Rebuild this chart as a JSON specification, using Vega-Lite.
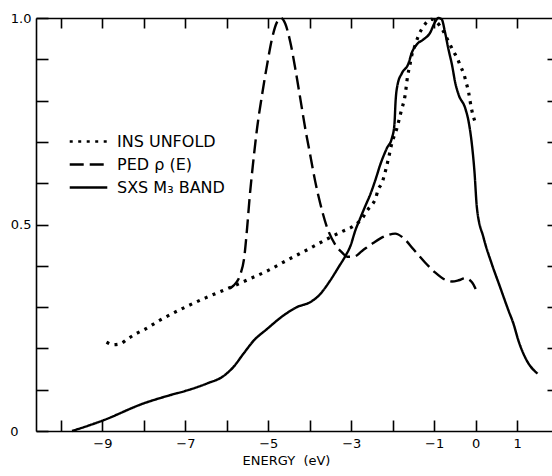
{
  "$schema": "https://vega.github.io/schema/vega-lite/v6.json",
  "width": 516,
  "height": 413,
  "autosize": "none",
  "padding": {"left": 36, "top": 18, "right": 0, "bottom": 45},
  "background": "white",
  "config": {
    "view": {"stroke": null},
    "font": "DejaVu Sans",
    "axis": {
      "grid": false,
      "domainColor": "black",
      "domainWidth": 1.6,
      "tickColor": "black",
      "tickWidth": 1.6,
      "labelColor": "black",
      "labelFont": "DejaVu Sans",
      "labelFontSize": 13,
      "titleColor": "black",
      "titleFont": "DejaVu Sans",
      "titleFontSize": 13,
      "titleFontWeight": "normal",
      "labelFlush": false,
      "labelOverlap": false
    }
  },
  "data": {
    "values": [
      {"s": "INS UNFOLD", "e": -8.9, "v": 0.215},
      {"s": "INS UNFOLD", "e": -8.74, "v": 0.209},
      {"s": "INS UNFOLD", "e": -8.57, "v": 0.211},
      {"s": "INS UNFOLD", "e": -8.39, "v": 0.223},
      {"s": "INS UNFOLD", "e": -8.2, "v": 0.235},
      {"s": "INS UNFOLD", "e": -8.0, "v": 0.245},
      {"s": "INS UNFOLD", "e": -7.6, "v": 0.269},
      {"s": "INS UNFOLD", "e": -7.0, "v": 0.3},
      {"s": "INS UNFOLD", "e": -6.5, "v": 0.323},
      {"s": "INS UNFOLD", "e": -6.0, "v": 0.344},
      {"s": "INS UNFOLD", "e": -5.5, "v": 0.366},
      {"s": "INS UNFOLD", "e": -5.0, "v": 0.389},
      {"s": "INS UNFOLD", "e": -4.5, "v": 0.416},
      {"s": "INS UNFOLD", "e": -4.0, "v": 0.442},
      {"s": "INS UNFOLD", "e": -3.6, "v": 0.464},
      {"s": "INS UNFOLD", "e": -3.2, "v": 0.484},
      {"s": "INS UNFOLD", "e": -2.98, "v": 0.494},
      {"s": "INS UNFOLD", "e": -2.8, "v": 0.508},
      {"s": "INS UNFOLD", "e": -2.7, "v": 0.52},
      {"s": "INS UNFOLD", "e": -2.6, "v": 0.536},
      {"s": "INS UNFOLD", "e": -2.5, "v": 0.548},
      {"s": "INS UNFOLD", "e": -2.42, "v": 0.561},
      {"s": "INS UNFOLD", "e": -2.35, "v": 0.585},
      {"s": "INS UNFOLD", "e": -2.26, "v": 0.6},
      {"s": "INS UNFOLD", "e": -2.2, "v": 0.62},
      {"s": "INS UNFOLD", "e": -2.1, "v": 0.661},
      {"s": "INS UNFOLD", "e": -2.02, "v": 0.697},
      {"s": "INS UNFOLD", "e": -1.9, "v": 0.733},
      {"s": "INS UNFOLD", "e": -1.8, "v": 0.773},
      {"s": "INS UNFOLD", "e": -1.7, "v": 0.814},
      {"s": "INS UNFOLD", "e": -1.64, "v": 0.86},
      {"s": "INS UNFOLD", "e": -1.59, "v": 0.884},
      {"s": "INS UNFOLD", "e": -1.54, "v": 0.91},
      {"s": "INS UNFOLD", "e": -1.46, "v": 0.934},
      {"s": "INS UNFOLD", "e": -1.38, "v": 0.957},
      {"s": "INS UNFOLD", "e": -1.27, "v": 0.978},
      {"s": "INS UNFOLD", "e": -1.06, "v": 0.997},
      {"s": "INS UNFOLD", "e": -0.87, "v": 0.982},
      {"s": "INS UNFOLD", "e": -0.78, "v": 0.968},
      {"s": "INS UNFOLD", "e": -0.7, "v": 0.952},
      {"s": "INS UNFOLD", "e": -0.61, "v": 0.934},
      {"s": "INS UNFOLD", "e": -0.53, "v": 0.918},
      {"s": "INS UNFOLD", "e": -0.44, "v": 0.902},
      {"s": "INS UNFOLD", "e": -0.37, "v": 0.884},
      {"s": "INS UNFOLD", "e": -0.29, "v": 0.866},
      {"s": "INS UNFOLD", "e": -0.23, "v": 0.844},
      {"s": "INS UNFOLD", "e": -0.17, "v": 0.82},
      {"s": "INS UNFOLD", "e": -0.13, "v": 0.796},
      {"s": "INS UNFOLD", "e": -0.09, "v": 0.775},
      {"s": "INS UNFOLD", "e": -0.02, "v": 0.75},

      {"s": "PED ρ (E)", "e": -5.93, "v": 0.345},
      {"s": "PED ρ (E)", "e": -5.84, "v": 0.352},
      {"s": "PED ρ (E)", "e": -5.67, "v": 0.38},
      {"s": "PED ρ (E)", "e": -5.58, "v": 0.42},
      {"s": "PED ρ (E)", "e": -5.51, "v": 0.492},
      {"s": "PED ρ (E)", "e": -5.45, "v": 0.565},
      {"s": "PED ρ (E)", "e": -5.37, "v": 0.645},
      {"s": "PED ρ (E)", "e": -5.27, "v": 0.733},
      {"s": "PED ρ (E)", "e": -5.15, "v": 0.814},
      {"s": "PED ρ (E)", "e": -5.03, "v": 0.886},
      {"s": "PED ρ (E)", "e": -4.91, "v": 0.95},
      {"s": "PED ρ (E)", "e": -4.79, "v": 0.99},
      {"s": "PED ρ (E)", "e": -4.69, "v": 1.0},
      {"s": "PED ρ (E)", "e": -4.59, "v": 0.986},
      {"s": "PED ρ (E)", "e": -4.47, "v": 0.942},
      {"s": "PED ρ (E)", "e": -4.35, "v": 0.878},
      {"s": "PED ρ (E)", "e": -4.23, "v": 0.806},
      {"s": "PED ρ (E)", "e": -4.11, "v": 0.733},
      {"s": "PED ρ (E)", "e": -3.99, "v": 0.669},
      {"s": "PED ρ (E)", "e": -3.87, "v": 0.605},
      {"s": "PED ρ (E)", "e": -3.75, "v": 0.552},
      {"s": "PED ρ (E)", "e": -3.59, "v": 0.495},
      {"s": "PED ρ (E)", "e": -3.39, "v": 0.452},
      {"s": "PED ρ (E)", "e": -3.22, "v": 0.432},
      {"s": "PED ρ (E)", "e": -3.1, "v": 0.422},
      {"s": "PED ρ (E)", "e": -2.94, "v": 0.422},
      {"s": "PED ρ (E)", "e": -2.74, "v": 0.436},
      {"s": "PED ρ (E)", "e": -2.46, "v": 0.456},
      {"s": "PED ρ (E)", "e": -2.18, "v": 0.472},
      {"s": "PED ρ (E)", "e": -1.94, "v": 0.478},
      {"s": "PED ρ (E)", "e": -1.74, "v": 0.467},
      {"s": "PED ρ (E)", "e": -1.5, "v": 0.44},
      {"s": "PED ρ (E)", "e": -1.22, "v": 0.408},
      {"s": "PED ρ (E)", "e": -0.98, "v": 0.384},
      {"s": "PED ρ (E)", "e": -0.73, "v": 0.366},
      {"s": "PED ρ (E)", "e": -0.57, "v": 0.362},
      {"s": "PED ρ (E)", "e": -0.41, "v": 0.365},
      {"s": "PED ρ (E)", "e": -0.25, "v": 0.37},
      {"s": "PED ρ (E)", "e": -0.09, "v": 0.36},
      {"s": "PED ρ (E)", "e": 0.0, "v": 0.344},

      {"s": "SXS M₃ BAND", "e": -9.73, "v": 0.0},
      {"s": "SXS M₃ BAND", "e": -9.0, "v": 0.025},
      {"s": "SXS M₃ BAND", "e": -8.0, "v": 0.067},
      {"s": "SXS M₃ BAND", "e": -7.36, "v": 0.087},
      {"s": "SXS M₃ BAND", "e": -7.0, "v": 0.097},
      {"s": "SXS M₃ BAND", "e": -6.48, "v": 0.115},
      {"s": "SXS M₃ BAND", "e": -6.08, "v": 0.133},
      {"s": "SXS M₃ BAND", "e": -5.84, "v": 0.155},
      {"s": "SXS M₃ BAND", "e": -5.6, "v": 0.187},
      {"s": "SXS M₃ BAND", "e": -5.35, "v": 0.219},
      {"s": "SXS M₃ BAND", "e": -5.03, "v": 0.247},
      {"s": "SXS M₃ BAND", "e": -4.63, "v": 0.28},
      {"s": "SXS M₃ BAND", "e": -4.31, "v": 0.3},
      {"s": "SXS M₃ BAND", "e": -3.99, "v": 0.312},
      {"s": "SXS M₃ BAND", "e": -3.8, "v": 0.326},
      {"s": "SXS M₃ BAND", "e": -3.51, "v": 0.364},
      {"s": "SXS M₃ BAND", "e": -3.31, "v": 0.396},
      {"s": "SXS M₃ BAND", "e": -3.14, "v": 0.424},
      {"s": "SXS M₃ BAND", "e": -3.02, "v": 0.448},
      {"s": "SXS M₃ BAND", "e": -2.9, "v": 0.486},
      {"s": "SXS M₃ BAND", "e": -2.78, "v": 0.516},
      {"s": "SXS M₃ BAND", "e": -2.66, "v": 0.545},
      {"s": "SXS M₃ BAND", "e": -2.54, "v": 0.573},
      {"s": "SXS M₃ BAND", "e": -2.42, "v": 0.607},
      {"s": "SXS M₃ BAND", "e": -2.3, "v": 0.645},
      {"s": "SXS M₃ BAND", "e": -2.14, "v": 0.685},
      {"s": "SXS M₃ BAND", "e": -2.02, "v": 0.709},
      {"s": "SXS M₃ BAND", "e": -1.96, "v": 0.741},
      {"s": "SXS M₃ BAND", "e": -1.93, "v": 0.8},
      {"s": "SXS M₃ BAND", "e": -1.88, "v": 0.84},
      {"s": "SXS M₃ BAND", "e": -1.78, "v": 0.866},
      {"s": "SXS M₃ BAND", "e": -1.62, "v": 0.89},
      {"s": "SXS M₃ BAND", "e": -1.54, "v": 0.916},
      {"s": "SXS M₃ BAND", "e": -1.42, "v": 0.936},
      {"s": "SXS M₃ BAND", "e": -1.26, "v": 0.948},
      {"s": "SXS M₃ BAND", "e": -1.1, "v": 0.964},
      {"s": "SXS M₃ BAND", "e": -0.98, "v": 0.99},
      {"s": "SXS M₃ BAND", "e": -0.9, "v": 1.0},
      {"s": "SXS M₃ BAND", "e": -0.82, "v": 0.997},
      {"s": "SXS M₃ BAND", "e": -0.74, "v": 0.966},
      {"s": "SXS M₃ BAND", "e": -0.66, "v": 0.926},
      {"s": "SXS M₃ BAND", "e": -0.57, "v": 0.886},
      {"s": "SXS M₃ BAND", "e": -0.49, "v": 0.842},
      {"s": "SXS M₃ BAND", "e": -0.41, "v": 0.814},
      {"s": "SXS M₃ BAND", "e": -0.25, "v": 0.781},
      {"s": "SXS M₃ BAND", "e": -0.17, "v": 0.749},
      {"s": "SXS M₃ BAND", "e": -0.09, "v": 0.693},
      {"s": "SXS M₃ BAND", "e": -0.03, "v": 0.629},
      {"s": "SXS M₃ BAND", "e": 0.03, "v": 0.54},
      {"s": "SXS M₃ BAND", "e": 0.19, "v": 0.468},
      {"s": "SXS M₃ BAND", "e": 0.39, "v": 0.404},
      {"s": "SXS M₃ BAND", "e": 0.59, "v": 0.348},
      {"s": "SXS M₃ BAND", "e": 0.79, "v": 0.292},
      {"s": "SXS M₃ BAND", "e": 0.91, "v": 0.26},
      {"s": "SXS M₃ BAND", "e": 1.03, "v": 0.219},
      {"s": "SXS M₃ BAND", "e": 1.23, "v": 0.171},
      {"s": "SXS M₃ BAND", "e": 1.49, "v": 0.139}
    ]
  },
  "resolve": {"axis": {"x": "independent", "y": "independent"}},
  "layer": [
    {
      "mark": {"type": "line", "color": "black", "interpolate": "monotone", "strokeCap": "butt"},
      "encoding": {
        "x": {
          "field": "e", "type": "quantitative",
          "scale": {"domain": [-10.6, 1.84], "nice": false, "zero": false},
          "axis": {
            "orient": "bottom",
            "values": [-10, -9, -8, -7, -6, -5, -4, -3, -2, -1, 0, 1],
            "tickSize": -11,
            "labelPadding": 17,
            "labelExpr": "indexof([-9, -7, -5, -3, -1, 0, 1], datum.value) >= 0 ? (datum.value < 0 ? '−' + abs(datum.value) : '' + datum.value) : ''",
            "title": "ENERGY\u00a0\u00a0(eV)",
            "titleX": 250,
            "titlePadding": 4
          }
        },
        "y": {
          "field": "v", "type": "quantitative",
          "scale": {"domain": [0, 1], "nice": false},
          "axis": {
            "orient": "left",
            "values": [0, 0.1, 0.2, 0.3, 0.4, 0.5, 0.6, 0.7, 0.8, 0.9, 1],
            "tickSize": -12,
            "labelPadding": {"condition": {"test": "datum.value == 0", "value": 30}, "value": 17},
            "labelExpr": "datum.value == 0 ? '0' : datum.value == 0.5 ? '0.5' : datum.value == 1 ? '1.0' : ''",
            "title": null
          }
        },
        "strokeDash": {
          "field": "s", "type": "nominal",
          "scale": {
            "domain": ["INS UNFOLD", "PED ρ (E)", "SXS M₃ BAND"],
            "range": [[3, 5.5], [14, 6], [1, 0]]
          },
          "legend": {
            "orient": "none",
            "legendX": 38,
            "legendY": 109,
            "title": null,
            "symbolType": "M-1.42,0H1.42",
            "symbolSize": 700,
            "symbolStrokeWidth": 2.5,
            "symbolStrokeColor": "black",
            "symbolFillColor": "transparent",
            "labelFont": "DejaVu Sans",
            "labelFontSize": 16,
            "labelColor": "black",
            "labelOffset": 14,
            "labelLimit": 0,
            "rowPadding": 0,
            "padding": 0
          }
        },
        "strokeWidth": {"condition": {"test": "datum.s === 'INS UNFOLD'", "value": 3.2}, "value": 2.4}
      }
    },
    {
      "mark": {"type": "line", "opacity": 0},
      "encoding": {
        "x": {
          "field": "e", "type": "quantitative",
          "axis": {
            "orient": "top",
            "values": [-10, -9, -8, -7, -6, -5, -4, -3, -2, -1, 0, 1],
            "tickSize": -10,
            "labels": false,
            "title": null
          }
        },
        "y": {
          "field": "v", "type": "quantitative",
          "axis": {
            "orient": "right",
            "values": [0.1, 0.2, 0.3, 0.4, 0.5, 0.6, 0.7, 0.8, 0.9],
            "tickSize": -5,
            "labels": false,
            "domain": false,
            "title": null
          }
        },
        "detail": {"field": "s"}
      }
    }
  ]
}
